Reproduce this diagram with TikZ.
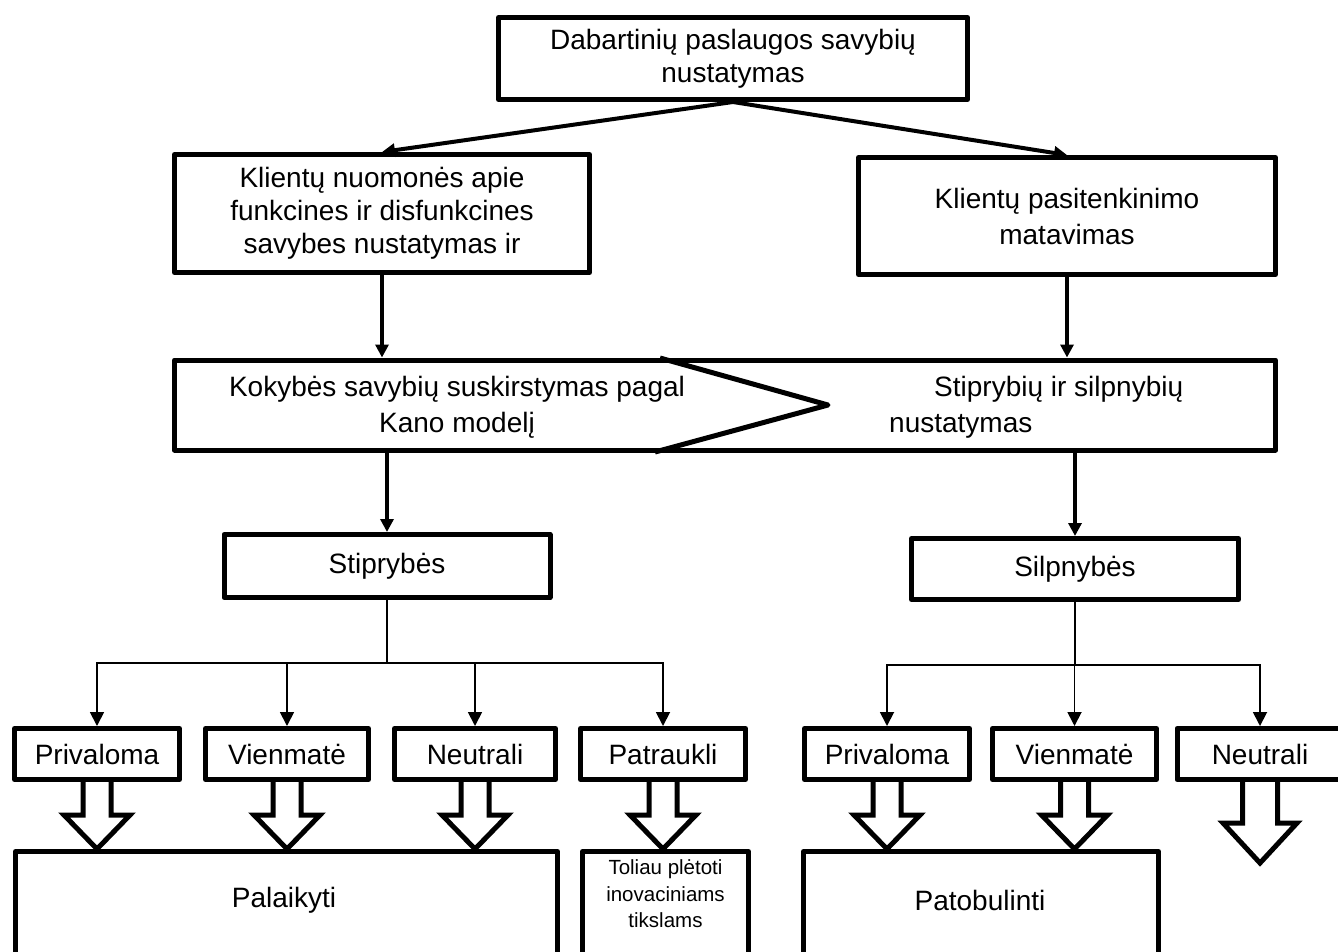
\documentclass[tikz,border=0pt]{standalone}
\usepackage{fontspec}
\setmainfont{Liberation Sans}
\usetikzlibrary{arrows.meta,calc}
\newcommand{\nmfont}{\fontsize{28pt}{33pt}\selectfont}
\newcommand{\widefont}{\fontsize{28pt}{36pt}\selectfont}
\newcommand{\blkarr}[5]{%
  \draw[blk] let \p1=(#1.south), \p2=(#2) in
    (\x1-#3,\y1) -- (\x1-#3,\y2+#5) -- (\x1-#4,\y2+#5) -- (\x1,\y2)
    -- (\x1+#4,\y2+#5) -- (\x1+#3,\y2+#5) -- (\x1+#3,\y1);}
\tikzset{
  box/.style={draw, line width=5pt, line join=round, fill=white,
    align=center, inner sep=0pt},
  catbox/.style={box, minimum height=51pt},
  resbox/.style={draw, line width=5pt, line join=round, anchor=north,
    minimum height=140pt, inner sep=0pt},
  arr/.style={-{Triangle[length=13pt,width=13pt]}, line width=4pt},
  tarr/.style={-{Triangle[length=14pt,width=14pt]}, line width=1.8pt},
  blk/.style={line width=5pt, line join=miter, fill=white},   % storos rodyklės žemyn
}
\begin{document}
\begin{tikzpicture}[x=1pt, y=-1pt, font=\nmfont]
  \path[use as bounding box, clip] (0,0) rectangle (1338,951);
  \node[box, minimum width=469pt, minimum height=82pt] (cur) at (733,58.5)
    {Dabartinių paslaugos savybių\\nustatymas};
  \node[box, minimum width=415pt, minimum height=118pt] (opin) at (382,213.5)
    {Klientų nuomonės apie\\funkcines ir disfunkcines\\savybes nustatymas ir};
  \node[box, minimum width=417pt, minimum height=117pt, font=\widefont] (satis) at (1067,216)
    {Klientų pasitenkinimo\\matavimas};
  \node[box, minimum width=1101pt, minimum height=90pt] (band) at (725,405) {};
  \draw[line width=5pt, line join=round] (660,358) -- (828,405) -- (655,452);
  \node[inner sep=0pt, align=center, font=\widefont] (kano) at (457,407)
    {Kokybės savybių suskirstymas pagal\\Kano modelį};
  \node[inner sep=0pt, align=left, anchor=west, font=\widefont] (swot) at (889,407)
    {\hspace*{45pt}Stiprybių ir silpnybių\\nustatymas};
  \draw[arr] (cur.south) -- (opin.north);
  \draw[arr] (cur.south) -- (satis.north);
  \draw[arr] (opin.south) -- (opin.south |- band.north);
  \draw[arr] (satis.south) -- (satis.south |- band.north);

  \node[box, minimum width=326pt, minimum height=63pt] (strong) at (387,566) {Stiprybės};
  \node[box, minimum width=327pt, minimum height=61pt] (weak) at (1075,569) {Silpnybės};
  \draw[arr] (band.south -| strong.north) -- (strong.north);
  \draw[arr] (band.south -| weak.north) -- (weak.north);

  \node[catbox, minimum width=165pt] (lmust) at (97,754) {Privaloma};
  \node[catbox, minimum width=163pt] (lone) at (287,754) {Vienmatė};
  \node[catbox, minimum width=161pt] (lneut) at (475,754) {Neutrali};
  \node[catbox, minimum width=165pt] (lattr) at (663,754) {Patraukli};
  \node[catbox, minimum width=165pt] (rmust) at (887,754) {Privaloma};
  \node[catbox, minimum width=164pt] (rone) at (1074.5,754) {Vienmatė};
  \node[catbox, minimum width=166pt] (rneut) at (1260,754) {Neutrali};

  \coordinate (lbus) at (387,663);
  \coordinate (rbus) at (1075,665);
  \draw[line width=1.8pt] (strong.south) -- (lbus);
  \draw[line width=1.8pt] (weak.south) -- (rbus);
  \foreach \cat in {lmust,lone,lneut,lattr} \draw[tarr] (lbus) -| (\cat.north);
  \foreach \cat in {rmust,rone,rneut} \draw[tarr] (rbus) -| (\cat.north);

  \node[resbox, minimum width=542pt] (keep) at (286.5,849) {};
  \node[resbox, minimum width=166pt] (grow) at (665.5,849) {};
  \node[resbox, minimum width=355pt] (improve) at (981,849) {};
  \node (keeptxt) at (284,900) {Palaikyti};
  \node[font=\fontsize{20.5pt}{26.5pt}\selectfont, align=center] (growtxt) at (665.5,894)
    {Toliau plėtoti\\inovaciniams\\tikslams};
  \node (improvetxt) at (980,900) {Patobulinti};

  \foreach \cat in {lmust,lone,lneut} \blkarr{\cat}{\cat.south |- keep.north}{14pt}{33pt}{34pt};
  \blkarr{lattr}{lattr.south |- grow.north}{14pt}{33pt}{34pt}
  \blkarr{rmust}{rmust.south |- improve.north}{14pt}{33pt}{34pt}
  \blkarr{rone}{rone.south |- improve.north}{14pt}{33pt}{34pt}
  \coordinate (rtip) at (1260,863);
  \blkarr{rneut}{rtip}{17.5pt}{37pt}{40pt}
\end{tikzpicture}
\end{document}
